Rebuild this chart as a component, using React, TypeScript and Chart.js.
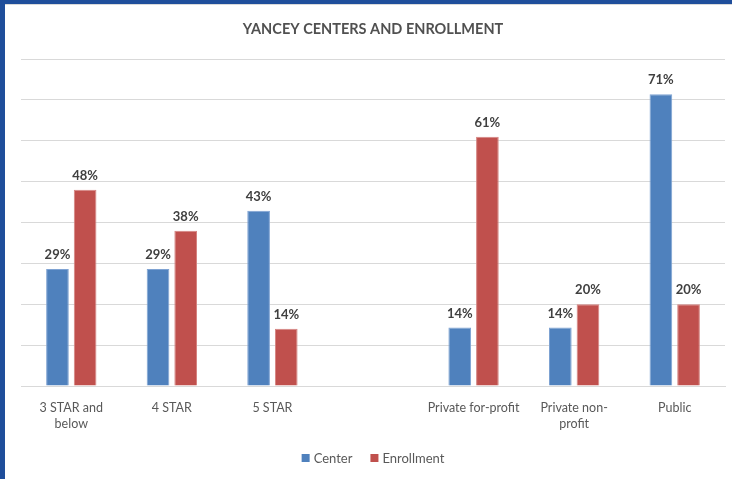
import React, { useEffect, useRef } from "react";
import { Chart, registerables } from "chart.js";

Chart.register(...registerables);

const categories: (string | string[])[] = [
  ["3 STAR and", "below"],
  "4 STAR",
  "5 STAR",
  "",
  "Private for-profit",
  ["Private non-", "profit"],
  "Public",
];
const centerValues: (number | null)[] = [28.6, 28.6, 42.9, null, 14.3, 14.3, 71.4];
const enrollmentValues: (number | null)[] = [48, 38, 14, null, 61, 20, 20];
const seriesNames = ["Center", "Enrollment"];
const titleText = "YANCEY CENTERS AND ENROLLMENT";

const BLUE = "#4F81BD";
const RED = "#C0504D";
const FONT = "Lato, 'Open Sans', sans-serif";

const decorPlugin = {
  id: "decor",
  beforeDraw(chart: any) {
    const ctx = chart.ctx;
    ctx.save();
    ctx.fillStyle = "#ffffff";
    ctx.fillRect(0, 0, chart.width, chart.height);
    ctx.fillStyle = "#1F4E9B";
    ctx.fillRect(0, 0, chart.width, 4);
    ctx.fillRect(0, 0, 5, chart.height);
    ctx.fillStyle = "#d9d9d9";
    ctx.fillRect(5, 4, chart.width - 5, 1);
    ctx.restore();
  },
  afterDraw(chart: any) {
    const ctx = chart.ctx;
    const area = chart.chartArea;
    const cx = (area.left + area.right) / 2;
    ctx.save();
    // title
    ctx.fillStyle = "#505050";
    ctx.font = `bold 14.5px ${FONT}`;
    ctx.textAlign = "center";
    ctx.textBaseline = "middle";
    ctx.fillText(titleText, cx, 29);
    // data labels
    ctx.font = `bold 13px ${FONT}`;
    ctx.fillStyle = "#404040";
    ctx.textBaseline = "alphabetic";
    chart.data.datasets.forEach((ds: any, di: number) => {
      const meta = chart.getDatasetMeta(di);
      meta.data.forEach((bar: any, i: number) => {
        const v = ds.data[i];
        if (v === null || v === undefined) return;
        ctx.fillText(Math.round(v) + "%", bar.x, bar.y - 10);
      });
    });
    // legend
    ctx.font = `13px ${FONT}`;
    ctx.fillStyle = "#595959";
    ctx.textAlign = "left";
    ctx.textBaseline = "middle";
    const sq = 8;
    const gapSq = 4;
    const gapItem = 18;
    const widths = seriesNames.map((n) => ctx.measureText(n).width);
    const total = widths.reduce((a, w) => a + sq + gapSq + w, 0) + gapItem * (seriesNames.length - 1);
    let x = cx - total / 2;
    const y = 458;
    const colors = [BLUE, RED];
    seriesNames.forEach((n, i) => {
      ctx.fillStyle = colors[i];
      ctx.fillRect(x, y - sq / 2, sq, sq);
      x += sq + gapSq;
      ctx.fillStyle = "#595959";
      ctx.fillText(n, x, y + 1);
      x += widths[i] + gapItem;
    });
    ctx.restore();
  },
};

export default function App() {
  const ref = useRef<HTMLCanvasElement | null>(null);
  useEffect(() => {
    document.body.style.margin = "0";
    const canvas = ref.current;
    if (!canvas) return;
    const chart = new Chart(canvas, {
      type: "bar",
      data: {
        labels: categories,
        datasets: [
          {
            label: seriesNames[0],
            data: centerValues,
            backgroundColor: BLUE,
            borderColor: "#7FA3D3",
            borderWidth: 1,
            categoryPercentage: 0.55,
            barPercentage: 0.82,
          },
          {
            label: seriesNames[1],
            data: enrollmentValues,
            backgroundColor: RED,
            borderColor: "#D58481",
            borderWidth: 1,
            categoryPercentage: 0.55,
            barPercentage: 0.82,
          },
        ],
      },
      options: {
        animation: false,
        responsive: false,
        maintainAspectRatio: false,
        layout: { padding: { left: 21, right: 7, top: 59, bottom: 43 } },
        plugins: {
          legend: { display: false },
          title: { display: false },
          tooltip: { enabled: false },
        },
        scales: {
          x: {
            grid: { display: false, drawTicks: false },
            border: { display: true, color: "#d9d9d9" },
            ticks: {
              color: "#595959",
              font: { family: FONT, size: 12.5, lineHeight: 1.3 },
              padding: 14,
              maxRotation: 0,
              autoSkip: false,
            },
            afterFit(scale: any) {
              scale.height = 50;
            },
          },
          y: {
            min: 0,
            max: 80,
            ticks: { stepSize: 10, display: false },
            grid: { color: "#d9d9d9", drawTicks: false, lineWidth: 1 },
            border: { display: false },
            afterFit(scale: any) {
              scale.width = 0;
            },
          },
        },
      },
      plugins: [decorPlugin],
    });
    return () => chart.destroy();
  }, []);
  return <canvas ref={ref} width={732} height={479} style={{ display: "block" }} />;
}
